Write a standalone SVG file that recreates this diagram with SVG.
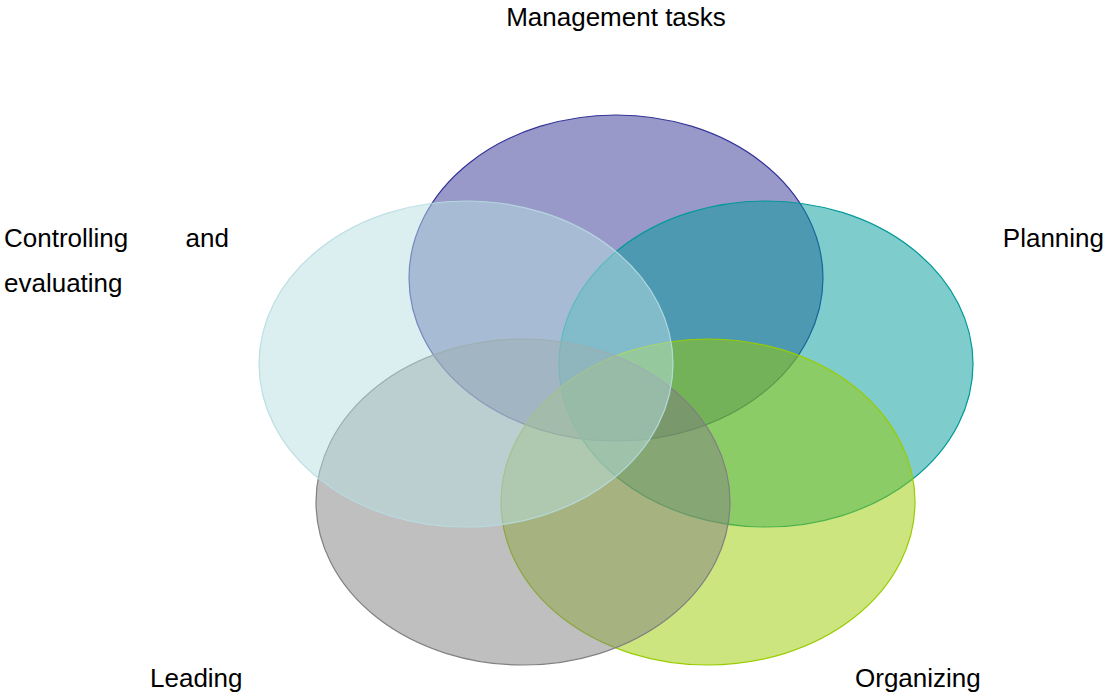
<svg xmlns="http://www.w3.org/2000/svg" width="1105" height="692" viewBox="0 0 1105 692">
<style>
text{font-family:"Liberation Sans",Arial,sans-serif;font-size:26px;fill:#000}
ellipse{stroke-width:1.2}
.purple{fill:#333393;fill-opacity:.5;stroke:#333399}
.teal{fill:#009999;fill-opacity:.5;stroke:#009999}
.green{fill:#99cc00;fill-opacity:.5;stroke:#99cc00}
.gray{fill:#808080;fill-opacity:.5;stroke:#808080}
.cyan{fill:#b7dde1;fill-opacity:.5;stroke:#b7dde1;stroke-opacity:.9}
</style>
<rect width="1105" height="692" fill="#fff"/>
<g id="management"><ellipse class="purple" cx="616" cy="278" rx="207" ry="163"/></g>
<g id="planning"><ellipse class="teal" cx="766" cy="364" rx="207" ry="163"/></g>
<g id="organizing"><ellipse class="green" cx="708" cy="502" rx="207" ry="163"/></g>
<g id="leading"><ellipse class="gray" cx="523" cy="502" rx="207" ry="163"/></g>
<g id="controlling"><ellipse class="cyan" cx="466" cy="364" rx="207" ry="163"/></g>
<g id="labels">
<text x="616" y="26" text-anchor="middle">Management tasks</text>
<text x="4" y="247">Controlling</text>
<text x="229" y="247" text-anchor="end">and</text>
<text x="4" y="292">evaluating</text>
<text x="1104" y="247" text-anchor="end">Planning</text>
<text x="150" y="687">Leading</text>
<text x="855" y="687">Organizing</text>
</g>
</svg>
